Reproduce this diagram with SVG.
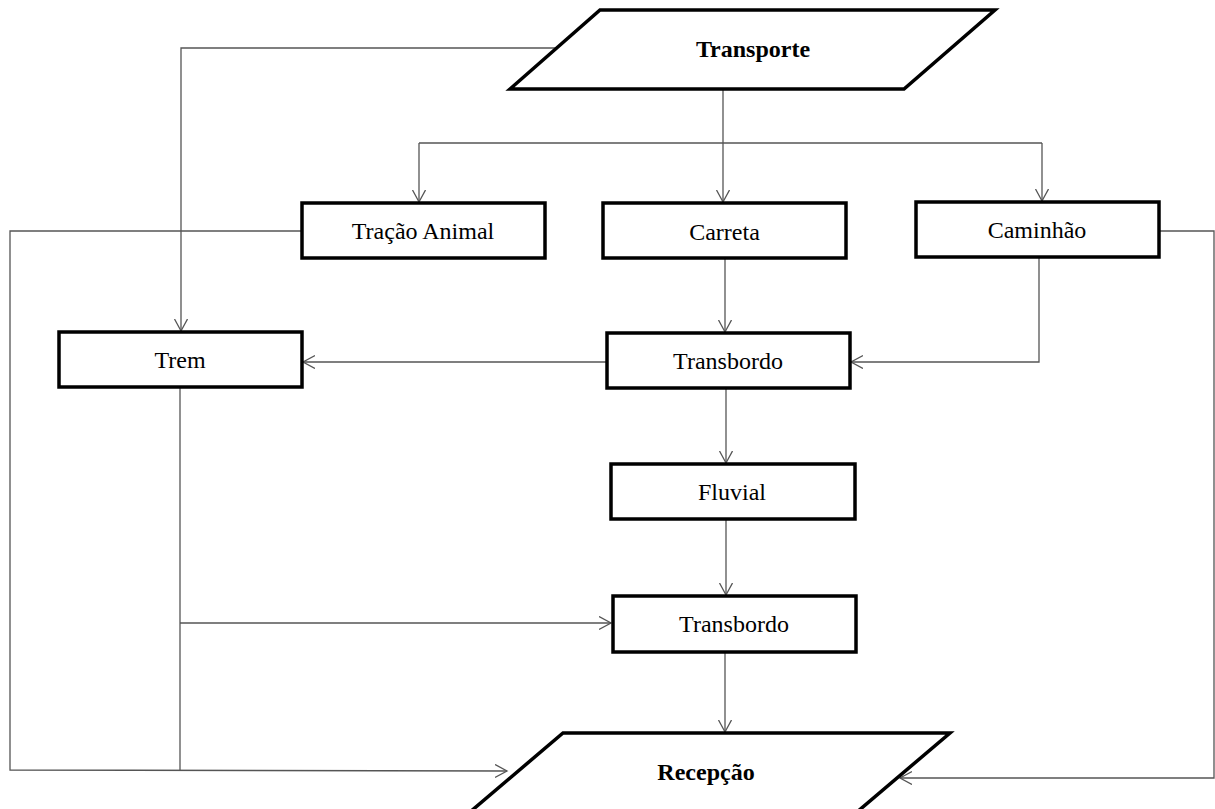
<svg xmlns="http://www.w3.org/2000/svg" width="1215" height="809" viewBox="0 0 1215 809">
<style>
.box{fill:#fff;stroke:#000;stroke-width:3.5}
.par{fill:#fff;stroke:#000;stroke-width:3.5;stroke-linejoin:miter}
.lbl{font-family:"Liberation Serif","Times New Roman",serif;font-size:24px;fill:#000;text-anchor:middle}
.b{font-weight:bold}
.c{fill:none;stroke:#555;stroke-width:1.3}
</style>
<defs>
<marker id="ah" markerUnits="userSpaceOnUse" markerWidth="14" markerHeight="15" refX="12" refY="7" orient="auto" viewBox="0 0 14 15">
<path d="M0,0.5 L12,7 L0,13.5" fill="none" stroke="#555" stroke-width="1.3"/>
</marker>
</defs>
<rect width="1215" height="809" fill="#fff"/>
<g id="connectors">
<polyline class="c" points="557,48 181,48 181,331" marker-end="url(#ah)"/>
<line class="c" x1="723" y1="89" x2="723" y2="202" marker-end="url(#ah)"/>
<line class="c" x1="419" y1="143" x2="1042" y2="143"/>
<line class="c" x1="419" y1="143" x2="419" y2="202" marker-end="url(#ah)"/>
<line class="c" x1="1042" y1="143" x2="1042" y2="201" marker-end="url(#ah)"/>
<polyline class="c" points="302,231 10,231 10,770 507,771" marker-end="url(#ah)"/>
<line class="c" x1="180" y1="387" x2="180" y2="770"/>
<line class="c" x1="180" y1="623" x2="611" y2="623" marker-end="url(#ah)"/>
<line class="c" x1="725" y1="258" x2="725" y2="332" marker-end="url(#ah)"/>
<polyline class="c" points="1039,257 1039,362 851,362" marker-end="url(#ah)"/>
<line class="c" x1="607" y1="362" x2="303" y2="362" marker-end="url(#ah)"/>
<line class="c" x1="726" y1="388" x2="726" y2="463" marker-end="url(#ah)"/>
<line class="c" x1="726" y1="519" x2="726" y2="595" marker-end="url(#ah)"/>
<line class="c" x1="725" y1="652" x2="725" y2="732" marker-end="url(#ah)"/>
<polyline class="c" points="1159,231 1214,231 1214,778 900,778" marker-end="url(#ah)"/>
</g>
<g id="transporte">
<polygon class="par" points="600,10 995,10 904,89 510,89"/>
<text class="lbl b" x="753" y="57">Transporte</text>
</g>
<g id="tracao-animal">
<rect class="box" x="302" y="203" width="243" height="55"/>
<text class="lbl" x="423" y="239">Tração Animal</text>
</g>
<g id="carreta">
<rect class="box" x="603" y="203" width="243" height="55"/>
<text class="lbl" x="724.5" y="240">Carreta</text>
</g>
<g id="caminhao">
<rect class="box" x="916" y="202" width="243" height="55"/>
<text class="lbl" x="1037" y="238">Caminhão</text>
</g>
<g id="trem">
<rect class="box" x="59" y="332" width="243" height="55"/>
<text class="lbl" x="180" y="368">Trem</text>
</g>
<g id="transbordo1">
<rect class="box" x="607" y="333" width="243" height="55"/>
<text class="lbl" x="728" y="369">Transbordo</text>
</g>
<g id="fluvial">
<rect class="box" x="611" y="464" width="244" height="55"/>
<text class="lbl" x="732" y="500">Fluvial</text>
</g>
<g id="transbordo2">
<rect class="box" x="613" y="596" width="243" height="56"/>
<text class="lbl" x="734" y="632">Transbordo</text>
</g>
<g id="recepcao">
<polygon class="par" points="563,733 950,733 857,812 470,812"/>
<text class="lbl b" x="706" y="780">Recepção</text>
</g>
</svg>
